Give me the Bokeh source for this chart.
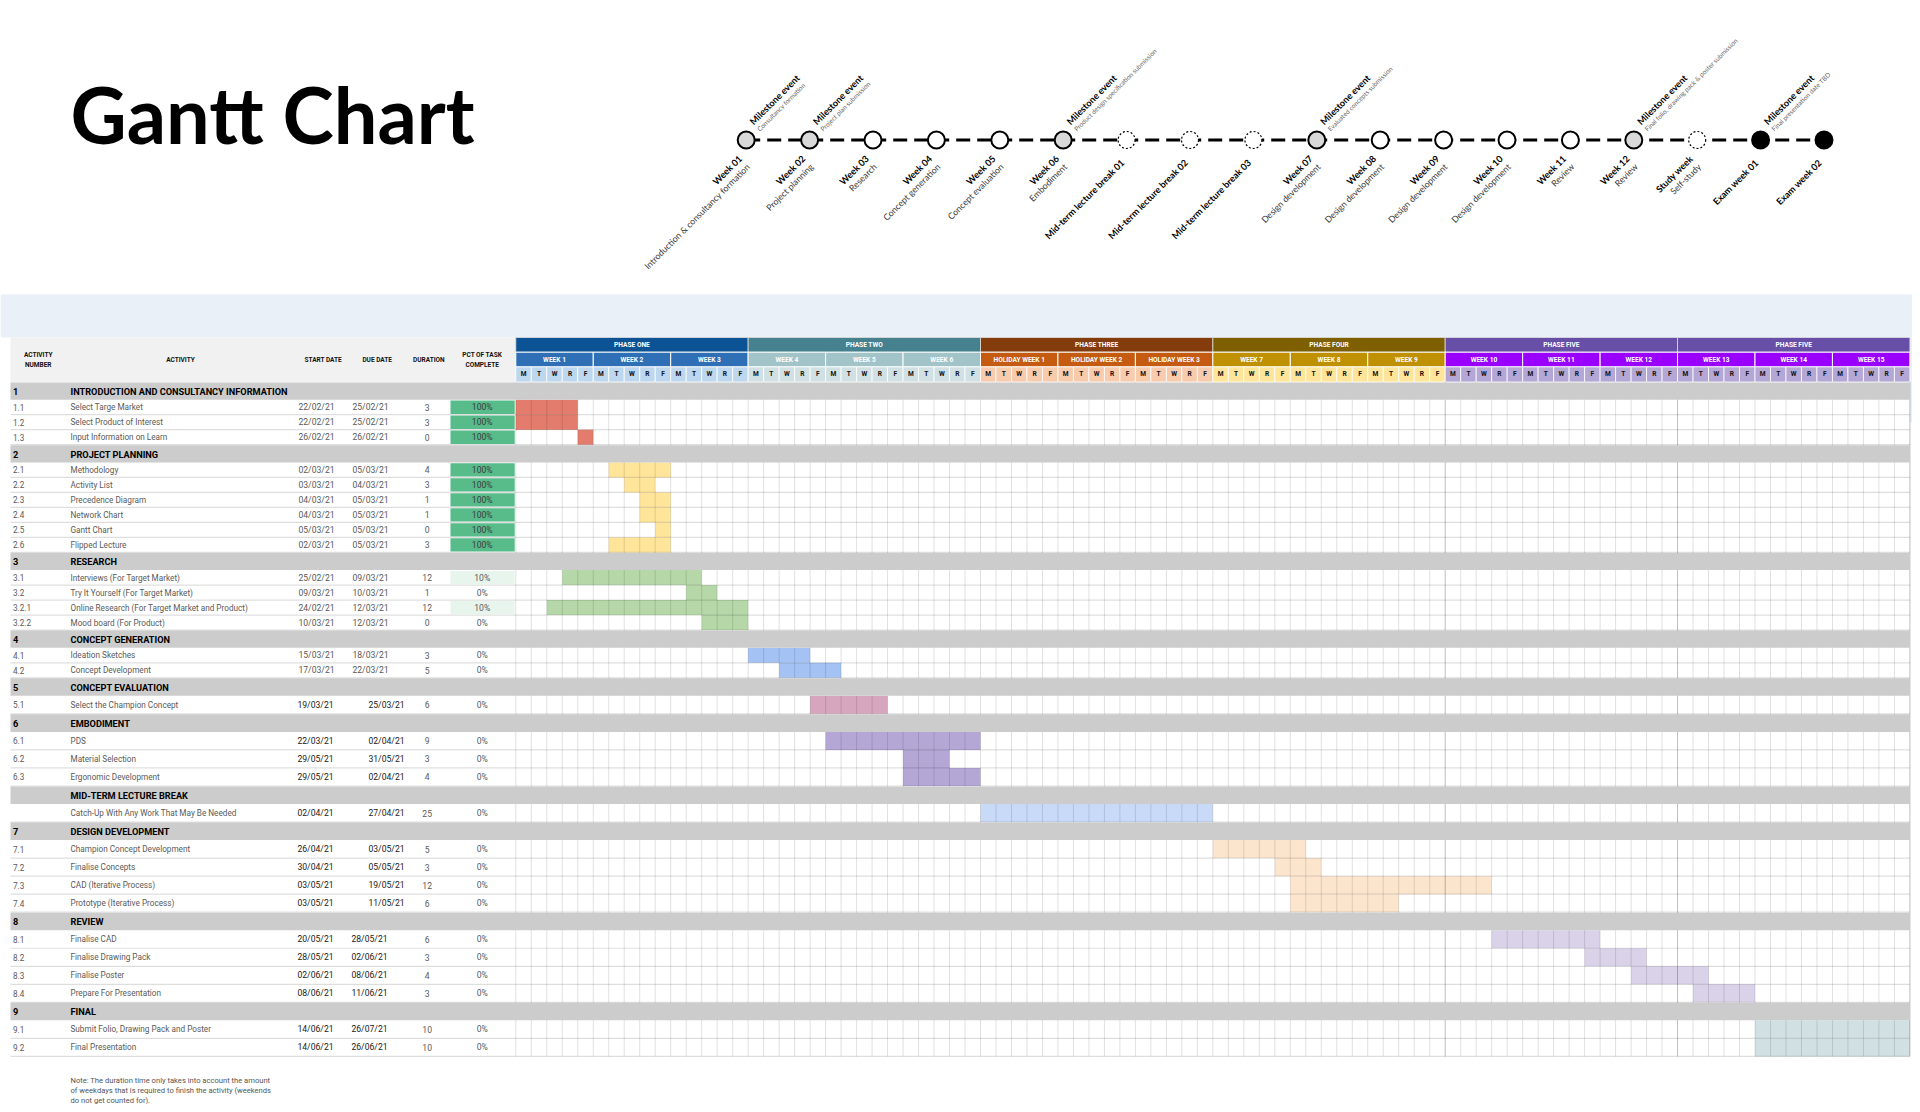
import math
from bokeh.plotting import figure
from bokeh.models import Range1d
from bokeh.core.properties import value
from bokeh.embed import file_html
from bokeh.resources import INLINE

# ---------------- data ----------------
chart_title = "Gantt Chart"

section_numbers = ["1", "2", "3", "4", "5", "6", "", "7", "8", "9"]
section_titles = ["INTRODUCTION AND CONSULTANCY INFORMATION", "PROJECT PLANNING", "RESEARCH",
                  "CONCEPT GENERATION", "CONCEPT EVALUATION", "EMBODIMENT", "MID-TERM LECTURE BREAK",
                  "DESIGN DEVELOPMENT", "REVIEW", "FINAL"]

task_section = [0, 0, 0, 1, 1, 1, 1, 1, 1, 2, 2, 2, 2, 3, 3, 4, 5, 5, 5, 6, 7, 7, 7, 7, 8, 8, 8, 8, 9, 9]
task_numbers = ["1.1", "1.2", "1.3", "2.1", "2.2", "2.3", "2.4", "2.5", "2.6", "3.1", "3.2", "3.2.1", "3.2.2",
                "4.1", "4.2", "5.1", "6.1", "6.2", "6.3", "", "7.1", "7.2", "7.3", "7.4",
                "8.1", "8.2", "8.3", "8.4", "9.1", "9.2"]
task_names = ["Select Targe Market", "Select Product of Interest", "Input Information on Learn",
              "Methodology", "Activity List", "Precedence Diagram", "Network Chart", "Gantt Chart",
              "Flipped Lecture", "Interviews (For Target Market)", "Try It Yourself (For Target Market)",
              "Online Research (For Target Market and Product)", "Mood board (For Product)",
              "Ideation Sketches", "Concept Development", "Select the Champion Concept",
              "PDS", "Material Selection", "Ergonomic Development",
              "Catch-Up With Any Work That May Be Needed",
              "Champion Concept Development", "Finalise Concepts", "CAD (Iterative Process)",
              "Prototype (Iterative Process)", "Finalise CAD", "Finalise Drawing Pack", "Finalise Poster",
              "Prepare For Presentation", "Submit Folio, Drawing Pack and Poster", "Final Presentation"]
start_dates = ["22/02/21", "22/02/21", "26/02/21", "02/03/21", "03/03/21", "04/03/21", "04/03/21", "05/03/21",
               "02/03/21", "25/02/21", "09/03/21", "24/02/21", "10/03/21", "15/03/21", "17/03/21", "19/03/21",
               "22/03/21", "29/05/21", "29/05/21", "02/04/21", "26/04/21", "30/04/21", "03/05/21", "03/05/21",
               "20/05/21", "28/05/21", "02/06/21", "08/06/21", "14/06/21", "14/06/21"]
due_dates = ["25/02/21", "25/02/21", "26/02/21", "05/03/21", "04/03/21", "05/03/21", "05/03/21", "05/03/21",
             "05/03/21", "09/03/21", "10/03/21", "12/03/21", "12/03/21", "18/03/21", "22/03/21", "25/03/21",
             "02/04/21", "31/05/21", "02/04/21", "27/04/21", "03/05/21", "05/05/21", "19/05/21", "11/05/21",
             "28/05/21", "02/06/21", "08/06/21", "11/06/21", "26/07/21", "26/06/21"]
durations = [3, 3, 0, 4, 3, 1, 1, 0, 3, 12, 1, 12, 0, 3, 5, 6, 9, 3, 4, 25, 5, 3, 12, 6, 6, 3, 4, 3, 10, 10]
pct_complete = [100, 100, 100, 100, 100, 100, 100, 100, 100, 10, 0, 10, 0,
                0, 0, 0, 0, 0, 0, 0, 0, 0, 0, 0, 0, 0, 0, 0, 0, 0]
# shaded weekday columns in the chart (0 = Monday of week 1)
bar_start_day = [0, 0, 4, 6, 7, 8, 8, 9, 6, 3, 11, 2, 12, 15, 17, 19, 20, 25, 25, 30,
                 45, 49, 50, 50, 63, 69, 72, 76, 80, 80]
bar_days = [4, 4, 1, 4, 2, 2, 2, 1, 4, 9, 2, 13, 3, 4, 4, 5, 10, 3, 5, 15,
            6, 3, 13, 7, 7, 4, 5, 4, 10, 10]

header_labels = ["ACTIVITY\nNUMBER", "ACTIVITY", "START DATE", "DUE DATE", "DURATION", "PCT OF TASK\nCOMPLETE"]
phase_names = ["PHASE ONE", "PHASE TWO", "PHASE THREE", "PHASE FOUR", "PHASE FIVE", "PHASE FIVE"]
week_names = ["WEEK 1", "WEEK 2", "WEEK 3", "WEEK 4", "WEEK 5", "WEEK 6",
              "HOLIDAY WEEK 1", "HOLIDAY WEEK 2", "HOLIDAY WEEK 3", "WEEK 7", "WEEK 8", "WEEK 9",
              "WEEK 10", "WEEK 11", "WEEK 12", "WEEK 13", "WEEK 14", "WEEK 15"]
day_letters = ["M", "T", "W", "R", "F"]

note_lines = ["Note: The duration time only takes into account the amount",
              "of weekdays that is required to finish the activity (weekends",
              "do not get counted for)."]

tl_titles = ["Week 01", "Week 02", "Week 03", "Week 04", "Week 05", "Week 06",
             "Mid-term lecture break 01", "Mid-term lecture break 02", "Mid-term lecture break 03",
             "Week 07", "Week 08", "Week 09", "Week 10", "Week 11", "Week 12",
             "Study week", "Exam week 01", "Exam week 02"]
tl_subtitles = ["Introduction & consultancy formation", "Project planning", "Research", "Concept generation",
                "Concept evaluation", "Embodiment", "", "", "", "Design development", "Design development",
                "Design development", "Design development", "Review", "Review", "Self-study", "", ""]
tl_kind = ["milestone", "milestone", "week", "week", "week", "milestone", "break", "break", "break",
           "milestone", "week", "week", "week", "week", "milestone", "break", "exam", "exam"]
milestone_at = [0, 1, 5, 9, 14, 16]
milestone_notes = ["Consultancy  formation", "Project  plan submission",
                   "Product  design  specification  submission", "Evaluated concepts  submission",
                   "Final folio, drawing  pack & poster  submission", "Final presentation  date TBD"]

# ---------------- styles / layout ----------------
section_bar_colors = ["#e37c6c", "#ffe599", "#b6d7a8", "#a4c2f4", "#d5a6bd", "#b4a7d6",
                      "#c9daf8", "#fce5cd", "#d9d2e9", "#d0e0e3"]
phase_colors = ["#0b5394", "#45818e", "#843c0c", "#7f6000", "#674ea7", "#674ea7"]
week_colors = ["#2e6fb5", "#a2c4c9", "#c55a11", "#bf9000", "#9900ff", "#9900ff"]
day_colors = ["#bdd7ee", "#d0e0e3", "#f8cbad", "#ffe599", "#b4a7d6", "#b4a7d6"]
FONT = value("Roboto")
TLFONT = value("Lato")

W, H = 1912, 1104
X0, Y0 = 0, 0
GX0, CW, NDAYS = 515.3, 15.49, 90
GX1 = GX0 + NDAYS * CW
TL0, TLS, TLY = 745.7, 63.4, 139.5
TBL_L = 10

p = figure(width=W, height=H, x_range=Range1d(X0, X0 + W), y_range=Range1d(Y0 + H, Y0),
           output_backend="svg", toolbar_location=None, min_border=0,
           x_axis_location=None, y_axis_location=None)
p.grid.visible = False
p.outline_line_color = None
p.background_fill_color = "white"
p.border_fill_color = "white"
p.extra_x_ranges = {"day": Range1d((X0 - GX0) / CW, (X0 + W - GX0) / CW),
                    "tl": Range1d((X0 - TL0) / TLS, (X0 + W - TL0) / TLS)}

# ---- row geometry ----
row_kind, row_ref, row_top, row_bot = [], [], [], []
y = 381.5
for s in range(len(section_titles)):
    hs, ht = (17.7, 15.0) if s < 4 else (18.03, 18.03)
    row_kind.append("S"); row_ref.append(s); row_top.append(y); y += hs; row_bot.append(y)
    for t in [i for i, v in enumerate(task_section) if v == s]:
        row_kind.append("T"); row_ref.append(t); row_top.append(y); y += ht; row_bot.append(y)
GRID_BOT = y
HEAD_TOP, HEAD_BOT = 337.0, 381.5
HR1, HR2 = 351.7, 366.4

# ---- background bands ----
p.quad(left=[X0], right=[X0 + W], top=[294], bottom=[HEAD_TOP], fill_color="#e9f0f8", line_color=None)
p.quad(left=[GX1], right=[X0 + W], top=[HEAD_TOP], bottom=[422], fill_color="#e9f0f8", line_color=None)
p.quad(left=[TBL_L], right=[GX0], top=[HEAD_TOP], bottom=[HEAD_BOT], fill_color="#f1f1f1", line_color=None)

# ---- gantt header ----
nph = len(phase_names)
p.quad(left=[15 * k for k in range(nph)], right=[15 * k + 15 for k in range(nph)],
       top=[HEAD_TOP] * nph, bottom=[HR1] * nph, fill_color=phase_colors,
       line_color="#dddddd", line_width=0.8, x_range_name="day")
nw = len(week_names)
p.quad(left=[5 * w for w in range(nw)], right=[5 * w + 5 for w in range(nw)],
       top=[HR1] * nw, bottom=[HR2] * nw, fill_color=[week_colors[w // 3] for w in range(nw)],
       line_color="white", line_width=1, x_range_name="day")
p.quad(left=list(range(NDAYS)), right=[d + 1 for d in range(NDAYS)],
       top=[HR2] * NDAYS, bottom=[HEAD_BOT] * NDAYS,
       fill_color=[day_colors[d // 15] for d in range(NDAYS)],
       line_color="white", line_width=0.8, x_range_name="day")
p.text(x=[15 * k + 7.5 for k in range(nph)], y=[(HEAD_TOP + HR1) / 2] * nph, text=phase_names,
       text_align="center", text_baseline="middle", text_font=FONT, text_font_style="bold",
       text_font_size="6.6px", text_color="white", x_range_name="day")
p.text(x=[5 * w + 2.5 for w in range(nw)], y=[(HR1 + HR2) / 2] * nw, text=week_names,
       text_align="center", text_baseline="middle", text_font=FONT, text_font_style="bold",
       text_font_size="6.6px", text_color="white", x_range_name="day")
p.text(x=[d + 0.5 for d in range(NDAYS)], y=[(HR2 + HEAD_BOT) / 2] * NDAYS,
       text=[day_letters[d % 5] for d in range(NDAYS)],
       text_align="center", text_baseline="middle", text_font=FONT, text_font_style="bold",
       text_font_size="6.6px", text_color="#111111", x_range_name="day")

# ---- table header ----
hdr_x = [37.7, 180, 322.7, 376.7, 428.3, 481.7]
hx, hy, ht_ = [], [], []
for i, lab in enumerate(header_labels):
    parts = lab.split("\n")
    for j, part in enumerate(parts):
        hx.append(hdr_x[i]); ht_.append(part)
        hy.append(359.3 + (j - (len(parts) - 1) / 2) * 9.5)
p.text(x=hx, y=hy, text=ht_, text_align="center", text_baseline="middle", text_font=FONT,
       text_font_style="bold", text_font_size="6.5px", text_color="#111111")

# ---- bars ----
task_rows = [r for r in range(len(row_kind)) if row_kind[r] == "T"]
bl, br, bt, bb, bc = [], [], [], [], []
for r in task_rows:
    t = row_ref[r]
    bl.append(bar_start_day[t]); br.append(bar_start_day[t] + bar_days[t])
    bt.append(row_top[r]); bb.append(row_bot[r]); bc.append(section_bar_colors[task_section[t]])
p.quad(left=bl, right=br, top=bt, bottom=bb, fill_color=bc, line_color=None, x_range_name="day")

# ---- grid ----
p.segment(x0=list(range(NDAYS + 1)), x1=list(range(NDAYS + 1)), y0=[HEAD_BOT] * (NDAYS + 1),
          y1=[GRID_BOT] * (NDAYS + 1), line_color="black",
          line_alpha=[0.26 if d in (60, 75, 90) else 0.12 for d in range(NDAYS + 1)],
          line_width=1, x_range_name="day")
p.segment(x0=[TBL_L] * len(task_rows), x1=[GX1] * len(task_rows),
          y0=[row_bot[r] for r in task_rows], y1=[row_bot[r] for r in task_rows],
          line_color="black", line_alpha=0.13, line_width=1.2)

# ---- pct cells ----
pc_rows = [r for r in task_rows if pct_complete[row_ref[r]] > 0]
p.quad(left=[450] * len(pc_rows), right=[514.2] * len(pc_rows),
       top=[row_top[r] + 0.8 for r in pc_rows], bottom=[row_bot[r] - 0.8 for r in pc_rows],
       fill_color=["#57bb8a" if pct_complete[row_ref[r]] == 100 else "#e8f5ec" for r in pc_rows],
       line_color=None)

# ---- section rows ----
sec_rows = [r for r in range(len(row_kind)) if row_kind[r] == "S"]
p.quad(left=[TBL_L] * len(sec_rows), right=[GX1] * len(sec_rows),
       top=[row_top[r] + 0.5 for r in sec_rows], bottom=[row_bot[r] for r in sec_rows],
       fill_color="#cccccc", line_color=None)
sy = [(row_top[r] + row_bot[r]) / 2 + 0.5 for r in sec_rows]
p.text(x=[12.5] * len(sec_rows), y=sy, text=[section_numbers[row_ref[r]] for r in sec_rows],
       text_baseline="middle", text_font=FONT, text_font_style="bold", text_font_size="9.2px",
       text_color="black")
p.text(x=[70] * len(sec_rows), y=sy, text=[section_titles[row_ref[r]] for r in sec_rows],
       text_baseline="middle", text_font=FONT, text_font_style="bold", text_font_size="9.2px",
       text_color="black")

# ---- task text ----
ty = [(row_top[r] + row_bot[r]) / 2 for r in task_rows]
tids = [row_ref[r] for r in task_rows]
secs = [task_section[t] for t in tids]
grey = "#5a5a5a"
date_col = [grey if s < 4 else "#1a1a1a" for s in secs]
due_x = [370 if s < 4 else (386 if s < 8 else 369) for s in secs]
start_x = [316 if s < 4 else 315 for s in secs]
common = dict(text_baseline="middle", text_font=FONT, text_font_size="8.2px")
dcommon = dict(text_baseline="middle", text_font=FONT, text_font_size="8.6px", text_align="center")
p.text(x=[12.5] * len(tids), y=ty, text=[task_numbers[t] for t in tids], text_color=grey, **common)
p.text(x=[70] * len(tids), y=ty, text=[task_names[t] for t in tids], text_color=grey, **common)
p.text(x=start_x, y=ty, text=[start_dates[t] for t in tids], text_color=date_col, **dcommon)
p.text(x=due_x, y=ty, text=[due_dates[t] for t in tids], text_color=date_col, **dcommon)
p.text(x=[426.7] * len(tids), y=ty, text=[str(durations[t]) for t in tids], text_color=grey, **dcommon)
p.text(x=[481.7] * len(tids), y=ty, text=["%d%%" % pct_complete[t] for t in tids],
       text_color=["#3c3c3c" if pct_complete[t] == 100 else grey for t in tids], **dcommon)

# ---- note ----
p.text(x=[70] * len(note_lines), y=[1080 + 10 * i for i in range(len(note_lines))], text=note_lines,
       text_baseline="middle", text_font=FONT, text_font_size="7.6px", text_color="#555555")

# ---- title ----
p.text(x=[70], y=[114], text=[chart_title], text_baseline="middle", text_font=TLFONT,
       text_font_style="bold", text_font_size="77.5px", text_color="black")

# ---- timeline ----
N = len(tl_titles)
p.line(x=[0, N - 1], y=[TLY, TLY], line_color="black", line_width=3, line_dash="14 7", x_range_name="tl")
styles = {"milestone": dict(fill_color="#d9d9d9", line_width=2, line_dash="solid"),
          "week": dict(fill_color="white", line_width=2, line_dash="solid"),
          "break": dict(fill_color="white", line_width=1.2, line_dash="2 2"),
          "exam": dict(fill_color="black", line_width=2, line_dash="solid")}
for kind, st in styles.items():
    idx = [i for i in range(N) if tl_kind[i] == kind]
    p.scatter(x=idx, y=[TLY] * len(idx), marker="circle", size=17, line_color="black",
              x_range_name="tl", **st)

ang = math.pi / 4
two = [i for i in range(N) if tl_subtitles[i]]
one = [i for i in range(N) if not tl_subtitles[i]]
p.text(x=[i - 6 / TLS for i in two], y=[TLY + 17] * len(two), text=[tl_titles[i] for i in two],
       angle=ang, text_align="right", text_baseline="middle", text_font=TLFONT, text_font_style="bold",
       text_font_size="9.2px", text_color="black", x_range_name="tl")
p.text(x=[i + 2 / TLS for i in two], y=[TLY + 25] * len(two), text=[tl_subtitles[i] for i in two],
       angle=ang, text_align="right", text_baseline="middle", text_font=TLFONT,
       text_font_size="8.8px", text_color="#3a3a3a", x_range_name="tl")
p.text(x=[i - 4 / TLS for i in one], y=[TLY + 21] * len(one), text=[tl_titles[i] for i in one],
       angle=ang, text_align="right", text_baseline="middle", text_font=TLFONT, text_font_style="bold",
       text_font_size="9.2px", text_color="black", x_range_name="tl")
nm = len(milestone_at)
p.text(x=[i + 5 / TLS for i in milestone_at], y=[TLY - 17] * nm, text=["Milestone event"] * nm,
       angle=ang, text_align="left", text_baseline="middle", text_font=TLFONT, text_font_style="bold",
       text_font_size="9.2px", text_color="black", x_range_name="tl")
p.text(x=[i + 12 / TLS for i in milestone_at], y=[TLY - 10] * nm, text=milestone_notes,
       angle=ang, text_align="left", text_baseline="middle", text_font=TLFONT,
       text_font_size="6.5px", text_color="#666666", x_range_name="tl")

open("out.html", "w").write(file_html(p, INLINE))
